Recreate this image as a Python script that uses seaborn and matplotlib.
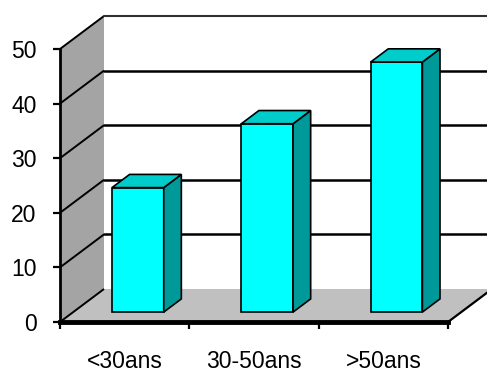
import matplotlib
matplotlib.use("Agg")
import matplotlib.pyplot as plt
import matplotlib.transforms as mtransforms
from matplotlib.patches import Polygon
import seaborn as sns
import pandas as pd

categories = ["<30ans", "30-50ans", ">50ans"]
values = [22.8, 34.5, 45.8]
y_ticks = [0, 10, 20, 30, 40, 50]

sns.set_style("white")
plt.rcParams["font.family"] = ["Liberation Sans", "DejaVu Sans"]
plt.rcParams["text.color"] = "black"

W, H = 487, 374
fig = plt.figure(figsize=(W / 100, H / 100), dpi=100)
ax = fig.add_axes([60 / W, 52 / H, 388 / W, 273 / H])
ax.set_facecolor("none")

df = pd.DataFrame({"cat": categories, "val": values})
sns.barplot(data=df, x="cat", y="val", color="#00FFFF", saturation=1,
            width=0.4, edgecolor="black", linewidth=1.2, ax=ax, zorder=3)

ax.set_xlim(-0.5, 2.5)
ax.set_ylim(0, 50)

# depth vector in data units (44 px right, 33 px up)
DX = 44 / (388 / 3)
DY = 33 / (273 / 50)
f0, fd = 0.3, 0.4  # bar front depth fraction and bar depth

# walls and floor
floor = Polygon([(-0.5, 0), (2.5, 0), (2.5 + DX, DY), (-0.5 + DX, DY)],
                closed=True, facecolor="#C0C0C0", edgecolor="none", zorder=0.2, clip_on=False)
ax.add_patch(floor)
lwall = Polygon([(-0.5, 0), (-0.5, 50), (-0.5 + DX, 50 + DY), (-0.5 + DX, DY)],
                closed=True, facecolor="#A4A4A4", edgecolor="none", zorder=0.2, clip_on=False)
ax.add_patch(lwall)

for v in y_ticks:
    ax.plot([-0.5, -0.5 + DX], [v, v + DY], color="black", lw=1.4, zorder=0.5,
            clip_on=False, solid_capstyle="butt")
    if 0 < v < 50:
        ax.plot([-0.5 + DX, 2.5 + DX], [v + DY, v + DY], color="black", lw=1.8,
                zorder=0.5, clip_on=False)
ax.plot([-0.5 + DX, 2.5 + DX], [50 + DY, 50 + DY], color="#303030", lw=1.5,
        zorder=0.5, clip_on=False)
ax.plot([2.5, 2.5 + DX], [0, DY], color="black", lw=1.6, zorder=0.5, clip_on=False)

# bars: shift front faces to their depth and add side/top faces
for p in list(ax.patches):
    if p in (floor, lwall):
        continue
    tr = mtransforms.Affine2D().translate(f0 * DX, f0 * DY) + ax.transData
    p.set_transform(tr)
    p.set_clip_on(False)
    x0 = p.get_x()
    w = p.get_width()
    h = p.get_height()
    x1 = x0 + w
    bdx, bdy = fd * DX, fd * DY
    side = Polygon([(x1, 0), (x1 + bdx, bdy), (x1 + bdx, h + bdy), (x1, h)], closed=True,
                   facecolor="#009999", edgecolor="black", lw=1.2, zorder=3,
                   transform=tr, clip_on=False)
    top = Polygon([(x0, h), (x0 + bdx, h + bdy), (x1 + bdx, h + bdy), (x1, h)], closed=True,
                  facecolor="#00CCCC", edgecolor="black", lw=1.2, zorder=3,
                  transform=tr, clip_on=False)
    ax.add_patch(side)
    ax.add_patch(top)

# axes styling
for s in ["top", "right"]:
    ax.spines[s].set_visible(False)
ax.spines["left"].set_linewidth(2)
ax.spines["bottom"].set_linewidth(3.5)
ax.spines["left"].set_color("black")
ax.spines["bottom"].set_color("black")
ax.spines["left"].set_zorder(4)
ax.spines["bottom"].set_zorder(4)

ax.set_yticks(y_ticks)
ax.set_yticklabels([str(t) for t in y_ticks])
ax.tick_params(axis="y", direction="out", length=5, width=1.6, pad=12,
               labelsize=16.5, left=True, color="black", labelcolor="black")
ax.set_xticks(range(len(categories)))
ax.set_xticklabels(categories)
ax.tick_params(axis="x", which="major", length=0, pad=20, labelsize=16.5,
               labelcolor="black")
ax.set_xticks([-0.5, 0.5, 1.5, 2.5], minor=True)
ax.tick_params(axis="x", which="minor", direction="out", length=5, width=1.6,
               bottom=True, color="black")
ax.set_xlabel("")
ax.set_ylabel("")
ax.grid(False)

fig.savefig("out.png", dpi=100)
